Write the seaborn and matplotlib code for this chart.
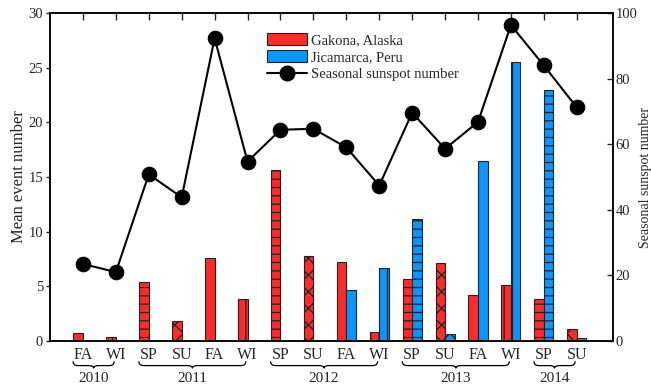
import numpy as np
import pandas as pd
import matplotlib
matplotlib.use("Agg")
import matplotlib.pyplot as plt
import seaborn as sns
from matplotlib.path import Path
from matplotlib.patches import PathPatch, Patch
from matplotlib.lines import Line2D
import matplotlib.transforms as mtransforms

seasons = ["FA", "WI", "SP", "SU", "FA", "WI", "SP", "SU", "FA", "WI",
           "SP", "SU", "FA", "WI", "SP", "SU"]
years = ["2010", "2010", "2011", "2011", "2011", "2011", "2012", "2012", "2012", "2012",
         "2013", "2013", "2013", "2013", "2014", "2014"]
gakona = [0.7, 0.35, 5.4, 1.8, 7.6, 3.8, 15.6, 7.8, 7.2, 0.8,
          5.7, 7.1, 4.2, 5.15, 3.8, 1.1]
jicamarca = [0.0, 0.0, 0.0, 0.0, 0.0, 0.0, 0.0, 0.0, 4.7, 6.7,
             11.2, 0.6, 16.5, 25.5, 23.0, 0.3]
sunspot = [23.5, 21.0, 50.8, 43.8, 92.3, 54.7, 64.4, 64.7, 59.0, 47.4,
           69.6, 58.6, 66.8, 96.3, 84.0, 71.2]
series_names = ["Gakona, Alaska", "Jicamarca, Peru"]
line_name = "Seasonal sunspot number"
colors = ["#ff2b2b", "#0a96ff"]
hatch_map = {"SP": "--", "SU": "xx", "FA": "", "WI": "||"}

sns.set_style("white")
plt.rcParams["font.family"] = ["Liberation Serif", "DejaVu Serif"]
plt.rcParams["font.size"] = 10.5
plt.rcParams["hatch.color"] = "#111111"
plt.rcParams["hatch.linewidth"] = 0.9

labels = [f"{y} {s}" for y, s in zip(years, seasons)]
df = pd.DataFrame({
    "slot": labels * 2,
    "value": gakona + jicamarca,
    "site": [series_names[0]] * len(labels) + [series_names[1]] * len(labels),
})

fig = plt.figure(figsize=(6.51, 3.87), dpi=100)
ax = fig.add_axes([50 / 651, 1 - 341 / 387, 563 / 651, 328 / 387])

sns.barplot(data=df, x="slot", y="value", hue="site", order=labels,
            hue_order=series_names, palette=colors, width=0.58, dodge=True,
            saturation=1, edgecolor="#222222", linewidth=0.8, legend=False, ax=ax)

for cont in ax.containers:
    for bar, s in zip(cont, seasons):
        bar.set_hatch(hatch_map[s])

ax.set_xlim(-1, 16.1)
ax.set_ylim(0, 30)
ax.set_yticks(np.arange(0, 31, 5))
ax.set_xticks(range(len(seasons)))
ax.set_xticklabels(seasons, fontsize=11.5)
ax.set_xlabel("")
ax.set_ylabel("Mean event number", fontsize=12, labelpad=1)
ax.tick_params(axis="x", bottom=False, top=True, direction="in", length=5,
               width=1, labelbottom=True, pad=4)
ax.tick_params(axis="y", left=True, direction="out", length=3, width=1, pad=2)
for sp in ax.spines.values():
    sp.set_linewidth(1.1)
    sp.set_color("black")

ax2 = ax.twinx()
sns.lineplot(x=list(range(len(sunspot))), y=sunspot, ax=ax2, color="black",
             lw=1.5, marker="o", markersize=10.5, markeredgecolor="black",
             markerfacecolor="black")
ax2.set_ylim(0, 100)
ax2.set_xlim(-1, 16.1)
ax2.set_yticks(np.arange(0, 101, 20))
ax2.set_ylabel("Seasonal sunspot number", fontsize=10, labelpad=1)
ax2.tick_params(axis="y", right=True, direction="in", length=4, width=1, pad=2)
for sp in ax2.spines.values():
    sp.set_linewidth(1.1)
    sp.set_color("black")

# year braces
trans = mtransforms.blended_transform_factory(ax.transData, ax.transAxes)
groups = []
for i, y in enumerate(years):
    if groups and groups[-1][0] == y:
        groups[-1][2] = i
    else:
        groups.append([y, i, i])
y_tip, y_flat, y_mid = -0.062, -0.075, -0.083
for y, i0, i1 in groups:
    x0, x1 = i0 - 0.3, i1 - 0.05
    xm = (x0 + x1) / 2
    c = 0.15
    verts = [(x0, y_tip), (x0, y_flat), (x0 + c, y_flat),
             (xm - c, y_flat), (xm, y_flat), (xm, y_mid),
             (xm, y_flat), (xm + c, y_flat),
             (x1 - c, y_flat), (x1, y_flat), (x1, y_tip)]
    codes = [Path.MOVETO, Path.CURVE3, Path.CURVE3,
             Path.LINETO, Path.CURVE3, Path.CURVE3,
             Path.CURVE3, Path.CURVE3,
             Path.LINETO, Path.CURVE3, Path.CURVE3]
    ax.add_patch(PathPatch(Path(verts, codes), transform=trans, fill=False,
                           lw=0.9, edgecolor="black", clip_on=False))
    ax.text(xm, -0.115, y, transform=trans, ha="center", va="center", fontsize=11)

handles = [Patch(facecolor=colors[0], edgecolor="#222222", lw=0.8),
           Patch(facecolor=colors[1], edgecolor="#222222", lw=0.8),
           Line2D([], [], color="black", lw=1.5, marker="o", markersize=10.5)]
ax2.legend(handles, series_names + [line_name], loc="upper left",
           bbox_to_anchor=(0.386, 0.94), frameon=False, handlelength=2.7,
           handleheight=0.95, labelspacing=0.2, handletextpad=0.3,
           borderaxespad=0, borderpad=0)

fig.savefig("out.png", dpi=100)
